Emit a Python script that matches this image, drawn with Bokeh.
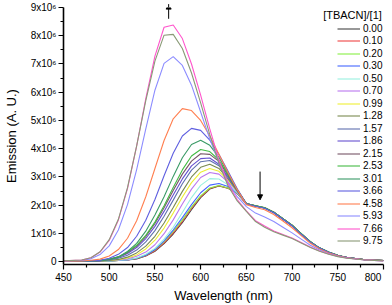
from bokeh.plotting import figure
from bokeh.models import Arrow, NormalHead, Legend, LegendItem, FixedTicker, Label, Range1d
from bokeh.embed import file_html
from bokeh.resources import INLINE

# wavelength grid (nm)
wavelength = [450, 470, 480, 490, 500, 510, 520, 530, 540, 550, 560, 570, 580, 590, 600, 610,
              620, 630, 640, 650, 660, 670, 680, 690, 700, 710, 720, 730, 740, 750, 760, 780, 800]

# [TBACN]/[1] ratios
conc_labels = ["0.00", "0.10", "0.20", "0.30", "0.50", "0.70", "0.99", "1.28", "1.57",
               "1.86", "2.15", "2.53", "3.01", "3.66", "4.58", "5.93", "7.66", "9.75"]

# emission intensity in units of 10^6 (A. U.)
em_000 = [0.02,0.02,0.02,0.02,0.03,0.04,0.06,0.10,0.20,0.37,0.64,0.98,1.38,1.84,2.27,2.57,2.68,2.60,2.42,2.05,1.97,1.90,1.74,1.52,1.28,0.98,0.70,0.48,0.33,0.22,0.15,0.07,0.04]
em_010 = [0.02,0.02,0.02,0.03,0.03,0.04,0.06,0.11,0.21,0.39,0.67,1.02,1.43,1.89,2.30,2.59,2.69,2.60,2.42,2.04,1.96,1.91,1.75,1.51,1.27,0.97,0.70,0.48,0.33,0.22,0.15,0.07,0.04]
em_020 = [0.02,0.02,0.02,0.03,0.03,0.04,0.07,0.12,0.23,0.42,0.71,1.07,1.48,1.93,2.33,2.61,2.70,2.61,2.43,2.06,1.98,1.92,1.75,1.52,1.29,0.99,0.71,0.49,0.34,0.23,0.15,0.07,0.04]
em_030 = [0.02,0.02,0.02,0.03,0.03,0.04,0.06,0.12,0.23,0.43,0.74,1.12,1.56,2.02,2.44,2.71,2.77,2.66,2.44,2.05,1.97,1.91,1.74,1.51,1.28,0.98,0.70,0.48,0.33,0.22,0.15,0.07,0.04]
em_050 = [0.02,0.02,0.02,0.03,0.03,0.05,0.07,0.13,0.26,0.47,0.80,1.22,1.74,2.27,2.70,2.94,2.93,2.72,2.45,2.06,1.98,1.91,1.75,1.52,1.28,0.98,0.70,0.48,0.33,0.22,0.15,0.07,0.04]
em_070 = [0.02,0.02,0.02,0.03,0.04,0.06,0.10,0.19,0.34,0.60,0.99,1.48,2.04,2.57,2.98,3.16,3.10,2.82,2.48,2.05,1.97,1.90,1.74,1.51,1.28,0.98,0.70,0.48,0.33,0.22,0.15,0.07,0.04]
em_099 = [0.02,0.02,0.02,0.03,0.04,0.07,0.13,0.24,0.45,0.76,1.19,1.72,2.29,2.80,3.17,3.30,3.20,2.88,2.50,2.06,1.98,1.91,1.75,1.52,1.29,0.99,0.70,0.48,0.33,0.22,0.15,0.07,0.04]
em_128 = [0.02,0.02,0.02,0.03,0.04,0.08,0.16,0.31,0.55,0.90,1.37,1.92,2.49,3.00,3.34,3.45,3.30,2.93,2.50,2.05,1.97,1.90,1.74,1.51,1.28,0.98,0.70,0.48,0.33,0.22,0.15,0.07,0.04]
em_157 = [0.02,0.02,0.02,0.03,0.06,0.12,0.23,0.41,0.70,1.10,1.61,2.18,2.76,3.24,3.54,3.58,3.40,2.98,2.52,2.06,1.98,1.91,1.75,1.52,1.28,0.98,0.70,0.48,0.33,0.22,0.15,0.07,0.04]
em_186 = [0.02,0.02,0.02,0.03,0.08,0.15,0.29,0.50,0.82,1.25,1.78,2.36,2.93,3.39,3.65,3.67,3.45,3.00,2.52,2.05,1.97,1.90,1.74,1.51,1.28,0.98,0.70,0.48,0.33,0.22,0.15,0.07,0.04]
em_215 = [0.02,0.02,0.03,0.04,0.09,0.17,0.32,0.55,0.89,1.35,1.91,2.52,3.10,3.56,3.82,3.80,3.55,3.05,2.53,2.06,1.98,1.91,1.75,1.52,1.29,0.99,0.71,0.49,0.34,0.23,0.15,0.07,0.04]
em_253 = [0.02,0.02,0.03,0.04,0.08,0.16,0.34,0.58,0.93,1.40,1.98,2.63,3.25,3.74,3.97,3.90,3.60,3.08,2.55,2.06,1.98,1.91,1.75,1.52,1.29,0.99,0.71,0.49,0.34,0.23,0.15,0.07,0.04]
em_301 = [0.02,0.03,0.03,0.04,0.08,0.17,0.36,0.65,1.08,1.65,2.30,3.02,3.68,4.15,4.30,4.12,3.70,3.12,2.55,2.05,1.97,1.90,1.74,1.51,1.28,0.98,0.70,0.48,0.33,0.22,0.15,0.07,0.04]
em_366 = [0.02,0.03,0.03,0.05,0.12,0.26,0.50,0.90,1.47,2.20,3.04,3.84,4.45,4.72,4.65,4.30,3.80,3.20,2.58,2.05,1.96,1.89,1.73,1.50,1.27,0.97,0.69,0.48,0.33,0.22,0.15,0.07,0.04]
em_458 = [0.02,0.03,0.05,0.09,0.20,0.43,0.83,1.45,2.30,3.30,4.29,5.06,5.42,5.35,5.00,4.45,3.80,3.15,2.55,2.02,1.92,1.84,1.67,1.44,1.20,0.92,0.65,0.45,0.31,0.21,0.14,0.07,0.04]
em_593 = [0.03,0.05,0.10,0.25,0.56,1.12,2.02,3.26,4.70,6.07,7.02,7.26,6.95,6.25,5.30,4.35,3.50,2.80,2.30,1.95,1.72,1.58,1.42,1.22,1.02,0.80,0.58,0.41,0.28,0.19,0.13,0.06,0.03]
em_766 = [0.03,0.06,0.14,0.34,0.75,1.47,2.59,4.09,5.77,7.28,8.30,8.38,7.90,7.00,5.90,4.70,3.60,2.75,2.20,1.80,1.45,1.26,1.09,0.96,0.84,0.68,0.52,0.38,0.27,0.19,0.13,0.06,0.03]
em_975 = [0.03,0.06,0.14,0.35,0.78,1.50,2.62,4.10,5.70,7.10,8.02,8.05,7.55,6.68,5.62,4.50,3.48,2.68,2.15,1.78,1.42,1.22,1.06,0.94,0.82,0.66,0.50,0.37,0.26,0.18,0.12,0.06,0.03]

series = [em_000, em_010, em_020, em_030, em_050, em_070, em_099, em_128, em_157,
          em_186, em_215, em_253, em_301, em_366, em_458, em_593, em_766, em_975]

colors = ["#444444", "#ee4444", "#88ee44", "#4466ff", "#99f0e0", "#bb77ee", "#eeee33",
          "#7a8a50", "#6070b0", "#6650d0", "#775566", "#44bb44", "#3a9a66", "#5f5fe0",
          "#ff7f50", "#8c8cff", "#ff55cc", "#8a9a77"]

x_ticks = [450, 500, 550, 600, 650, 700, 750, 800]
x_minor = [475, 525, 575, 625, 675, 725, 775]
y_ticks = [0, 1, 2, 3, 4, 5, 6, 7, 8, 9]
y_minor = [0.5, 1.5, 2.5, 3.5, 4.5, 5.5, 6.5, 7.5, 8.5]
y_tick_labels = ["0", "1x10\u2076", "2x10\u2076", "3x10\u2076", "4x10\u2076", "5x10\u2076",
                 "6x10\u2076", "7x10\u2076", "8x10\u2076", "9x10\u2076"]

FONT = "Liberation Sans"

p = figure(width=392, height=305, output_backend="svg", toolbar_location=None,
           x_range=Range1d(450, 800), y_range=Range1d(-0.1, 9.0),
           min_border_top=7, min_border_right=9, min_border_left=0, min_border_bottom=0)
p.outline_line_color = None
p.grid.visible = False
p.background_fill_color = "white"

items = []
for lab, ys, c in zip(conc_labels, series, colors):
    r = p.line(wavelength, ys, line_color=c, line_width=1.1)
    items.append(LegendItem(label=lab, renderers=[r]))

for ax in (p.xaxis[0], p.yaxis[0]):
    ax.axis_line_width = 1.6
    ax.axis_line_color = "black"
    ax.major_tick_line_color = "black"
    ax.minor_tick_line_color = "black"
    ax.major_tick_line_width = 1.2
    ax.minor_tick_line_width = 1.2
    ax.major_tick_in = 0
    ax.major_tick_out = 5
    ax.minor_tick_in = 0
    ax.minor_tick_out = 3
    ax.major_label_text_font = FONT
    ax.major_label_text_font_size = "10px"
    ax.major_label_text_color = "black"
    ax.axis_label_text_font = FONT
    ax.axis_label_text_font_size = "13px"
    ax.axis_label_text_font_style = "normal"
    ax.axis_label_text_color = "black"

p.xaxis.ticker = FixedTicker(ticks=x_ticks, minor_ticks=x_minor)
p.yaxis.ticker = FixedTicker(ticks=y_ticks, minor_ticks=y_minor)
p.yaxis.major_label_overrides = {t: s for t, s in zip(y_ticks, y_tick_labels)}
p.xaxis.major_label_overrides = {800: "800\u2007\u2007"}
p.xaxis.axis_label = "Wavelength (nm)"
p.yaxis.axis_label = "Emission (A. U.)"
p.xaxis.major_label_standoff = 2
p.xaxis.axis_label_standoff = 2
p.yaxis.major_label_standoff = 2
p.yaxis.axis_label_standoff = 9

# two interleaved legend columns (even / odd entries) give an even 12.5 px row pitch
legend_style = dict(orientation="vertical", label_text_font=FONT, label_text_font_size="10px",
                    label_text_color="black", glyph_width=23, glyph_height=25, label_height=25,
                    label_standoff=3, spacing=0, padding=0, margin=0,
                    border_line_color=None, background_fill_alpha=0)
legend_even = Legend(items=items[0::2], location=(274, 23.2), **legend_style)
legend_odd = Legend(items=items[1::2], location=(274, 10.7), **legend_style)
p.add_layout(legend_even)
p.add_layout(legend_odd)

p.add_layout(Label(x=734, y=8.72, text="[TBACN]/[1]", text_font=FONT, text_font_size="11px",
                   text_baseline="middle", text_color="black"))

p.add_layout(Arrow(end=NormalHead(size=5, fill_color="black", line_color="black"),
                   x_start=565, y_start=8.6, x_end=565, y_end=9.12,
                   line_color="black", line_width=1))
p.add_layout(Arrow(end=NormalHead(size=5, fill_color="black", line_color="black"),
                   x_start=665, y_start=3.19, x_end=665, y_end=2.19,
                   line_color="black", line_width=1))

open("out.html", "w").write(file_html(p, INLINE))
